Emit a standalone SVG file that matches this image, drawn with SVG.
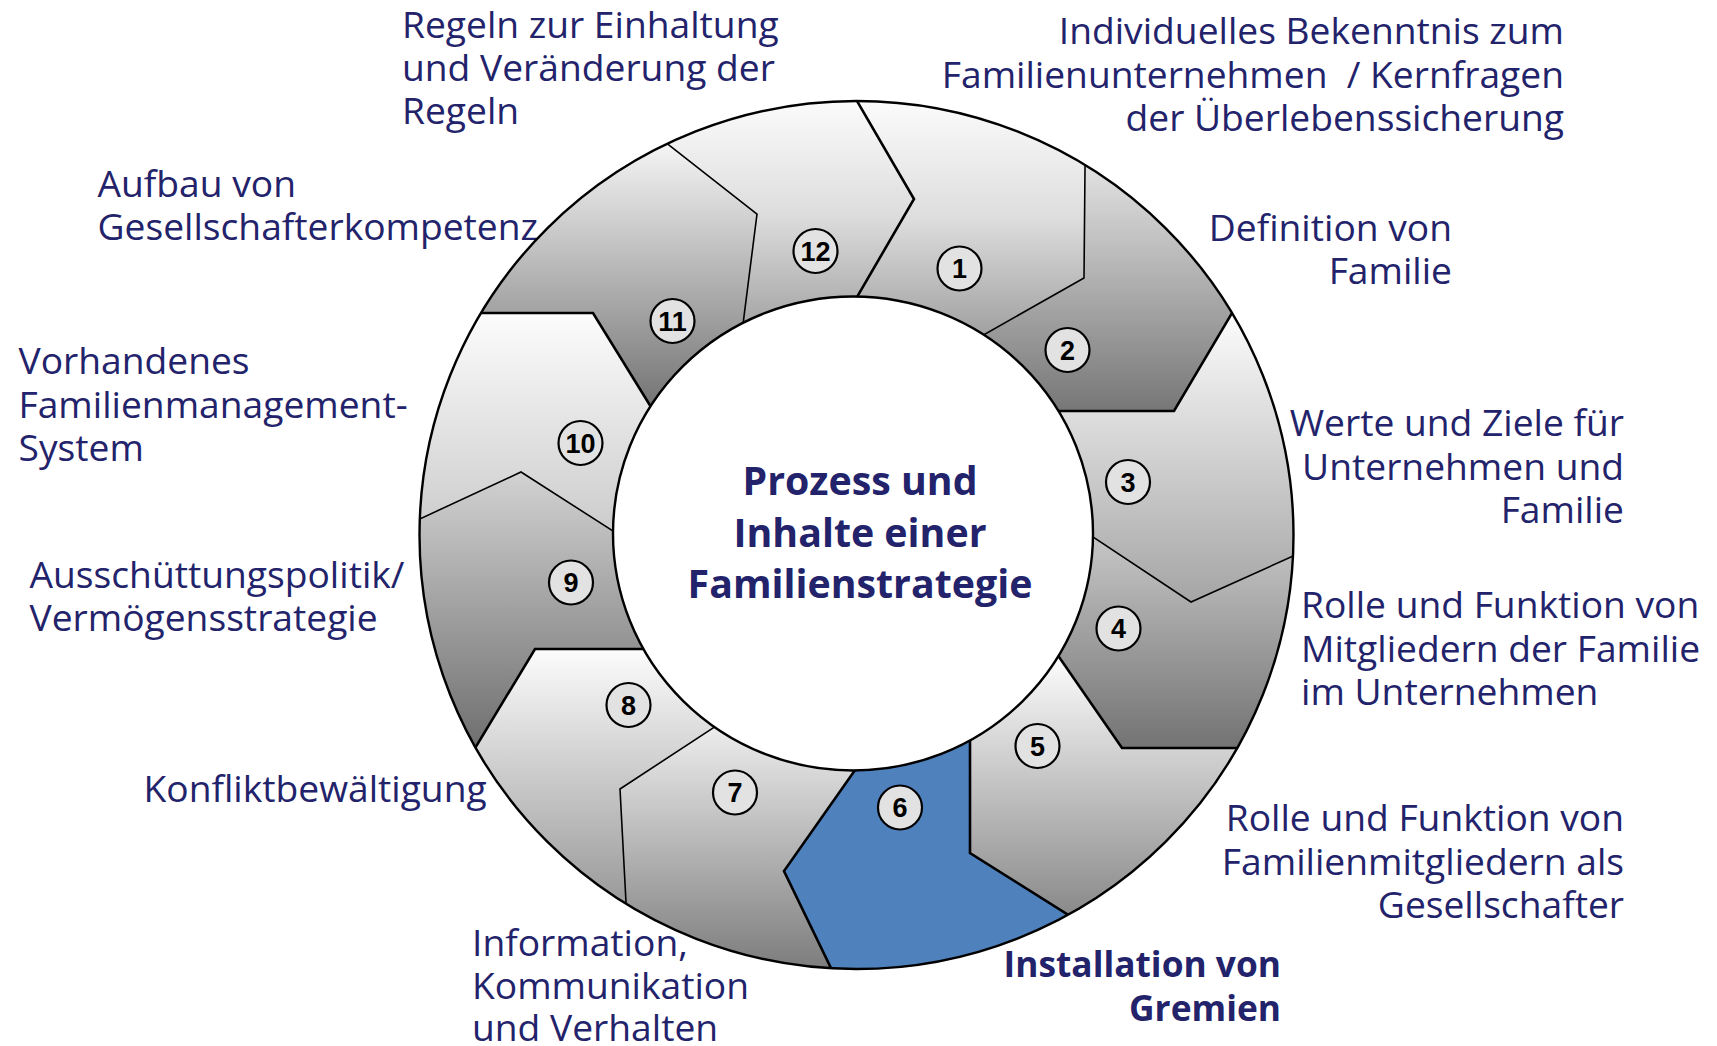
<svg xmlns="http://www.w3.org/2000/svg" width="1717" height="1046" viewBox="0 0 1717 1046">
  <style>
    .lbl { font-family: "Open Sans", "Liberation Sans", sans-serif; font-size: 37.2px; fill: #23236b; }
    .lbl-b { font-family: "Open Sans", "Liberation Sans", sans-serif; font-size: 35.3px; font-weight: bold; fill: #23236b; }
    .title { font-family: "Open Sans", "Liberation Sans", sans-serif; font-size: 39.3px; font-weight: bold; fill: #23236b; text-anchor: middle; }
    .end { text-anchor: end; }
    .seg { stroke: none; }
    .badge { fill: #e2e2e2; stroke: #000; stroke-width: 2.2; }
    .num { font-family: "Liberation Sans", Arial, sans-serif; font-size: 27px; font-weight: bold; fill: #000; text-anchor: middle; }
    .div-thick { fill: none; stroke: #000; stroke-width: 2.6; stroke-linejoin: miter; }
    .div-thin { fill: none; stroke: #000; stroke-width: 1.6; stroke-linejoin: miter; }
    .rim { fill: none; stroke: #000; stroke-width: 2.4; }
  </style>
  <defs>
    <!-- annulus used to trim the segment shapes and divider lines -->
    <clipPath id="band">
      <path clip-rule="evenodd" d="M419.5,535 a437,434 0 1,0 874,0 a437,434 0 1,0 -874,0 Z M613,533.5 a240,237 0 1,0 480,0 a240,237 0 1,0 -480,0 Z"/>
    </clipPath>
    <linearGradient id="g1" gradientUnits="userSpaceOnUse" x1="0" y1="101" x2="0" y2="333"><stop offset="0" stop-color="#fbfbfb"/><stop offset="0.5" stop-color="#dedede"/><stop offset="1" stop-color="#a2a2a2"/></linearGradient>
    <linearGradient id="g2" gradientUnits="userSpaceOnUse" x1="0" y1="165" x2="0" y2="411"><stop offset="0" stop-color="#e2e2e2"/><stop offset="1" stop-color="#777777"/></linearGradient>
    <linearGradient id="g3" gradientUnits="userSpaceOnUse" x1="0" y1="313" x2="0" y2="602"><stop offset="0" stop-color="#fcfcfc"/><stop offset="1" stop-color="#a5a5a5"/></linearGradient>
    <linearGradient id="g4" gradientUnits="userSpaceOnUse" x1="0" y1="537" x2="0" y2="748"><stop offset="0" stop-color="#c6c6c6"/><stop offset="1" stop-color="#737373"/></linearGradient>
    <linearGradient id="g5" gradientUnits="userSpaceOnUse" x1="0" y1="657" x2="0" y2="914"><stop offset="0" stop-color="#fcfcfc"/><stop offset="1" stop-color="#8a8a8a"/></linearGradient>
    <linearGradient id="g7" gradientUnits="userSpaceOnUse" x1="0" y1="727" x2="0" y2="968"><stop offset="0" stop-color="#ededed"/><stop offset="1" stop-color="#7d7d7d"/></linearGradient>
    <linearGradient id="g8" gradientUnits="userSpaceOnUse" x1="0" y1="649" x2="0" y2="902"><stop offset="0" stop-color="#fcfcfc"/><stop offset="1" stop-color="#9a9a9a"/></linearGradient>
    <linearGradient id="g9" gradientUnits="userSpaceOnUse" x1="0" y1="472" x2="0" y2="745"><stop offset="0" stop-color="#d2d2d2"/><stop offset="1" stop-color="#707070"/></linearGradient>
    <linearGradient id="g10" gradientUnits="userSpaceOnUse" x1="0" y1="313" x2="0" y2="531"><stop offset="0" stop-color="#fcfcfc"/><stop offset="1" stop-color="#cccccc"/></linearGradient>
    <linearGradient id="g11" gradientUnits="userSpaceOnUse" x1="0" y1="145" x2="0" y2="407"><stop offset="0" stop-color="#f4f4f4"/><stop offset="1" stop-color="#747474"/></linearGradient>
    <linearGradient id="g12" gradientUnits="userSpaceOnUse" x1="0" y1="101" x2="0" y2="324"><stop offset="0" stop-color="#fbfbfb"/><stop offset="0.5" stop-color="#dedede"/><stop offset="1" stop-color="#a6a6a6"/></linearGradient>
  </defs>

  <rect width="1717" height="1046" fill="#ffffff"/>

  <!-- ring segments, one group per step -->
  <g id="step-1">
    <path class="seg" clip-path="url(#band)" fill="url(#g1)" d="M836.9,66.4 L999,34.8 L1085.4,125 L1084,278 L952.2,352.7 L836.9,331.6 L914,199 Z"/>
    <circle class="badge" cx="959.5" cy="268.5" r="22"/>
    <text class="num" x="959.5" y="278">1</text>
    <text class="lbl end" x="1564" y="44" xml:space="preserve"><tspan x="1564" y="44">Individuelles Bekenntnis zum</tspan><tspan x="1564" y="87.5">Familienunternehmen  / Kernfragen</tspan><tspan x="1564" y="130.5">der Überlebenssicherung</tspan></text>
  </g>
  <g id="step-2">
    <path class="seg" clip-path="url(#band)" fill="url(#g2)" d="M1085.4,125 L1227.8,171 L1252.4,278.6 L1174,411 L1018,411 L952.2,352.7 L1084,278 Z"/>
    <circle class="badge" cx="1067.5" cy="350" r="22"/>
    <text class="num" x="1067.5" y="359.5">2</text>
    <text class="lbl end"><tspan x="1452" y="240.5">Definition von</tspan><tspan x="1452" y="283.5">Familie</tspan></text>
  </g>
  <g id="step-3">
    <path class="seg" clip-path="url(#band)" fill="url(#g3)" d="M1252.4,278.6 L1361.4,410.2 L1329.5,539.6 L1191,602 L1059.7,514.9 L1018,411 L1174,411 Z"/>
    <circle class="badge" cx="1128" cy="482" r="22"/>
    <text class="num" x="1128" y="491.5">3</text>
    <text class="lbl end"><tspan x="1624" y="436">Werte und Ziele für</tspan><tspan x="1624" y="480">Unternehmen und</tspan><tspan x="1624" y="523">Familie</tspan></text>
  </g>
  <g id="step-4">
    <path class="seg" clip-path="url(#band)" fill="url(#g4)" d="M1329.5,539.6 L1356.4,678.2 L1277,748 L1122,748 L1036.2,624.1 L1059.7,514.9 L1191,602 Z"/>
    <circle class="badge" cx="1118.5" cy="628.5" r="22"/>
    <text class="num" x="1118.5" y="638">4</text>
    <text class="lbl"><tspan x="1301" y="618">Rolle und Funktion von</tspan><tspan x="1301" y="662">Mitgliedern der Familie</tspan><tspan x="1301" y="705">im Unternehmen</tspan></text>
  </g>
  <g id="step-5">
    <path class="seg" clip-path="url(#band)" fill="url(#g5)" d="M1277,748 L1223.8,903 L1100.8,935.3 L970,853 L970,702 L1036.2,624.1 L1122,748 Z"/>
    <circle class="badge" cx="1037.5" cy="746" r="22"/>
    <text class="num" x="1037.5" y="755.5">5</text>
    <text class="lbl end"><tspan x="1624" y="831">Rolle und Funktion von</tspan><tspan x="1624" y="875">Familienmitgliedern als</tspan><tspan x="1624" y="918">Gesellschafter</tspan></text>
  </g>
  <g id="step-6">
    <path class="seg" clip-path="url(#band)" fill="#4f81bd" d="M1100.8,935.3 L972,1042 L848.4,1004 L784,871 L876,740.3 L970,702 L970,853 Z"/>
    <circle class="badge" cx="900" cy="807.5" r="22"/>
    <text class="num" x="900" y="817">6</text>
    <text class="lbl-b end"><tspan x="1281" y="977">Installation von</tspan><tspan x="1281" y="1020.5">Gremien</tspan></text>
  </g>
  <g id="step-7">
    <path class="seg" clip-path="url(#band)" fill="url(#g7)" d="M848.4,1004 L698,1030 L628.1,941.9 L620,789 L746.4,706.1 L876,740.3 L784,871 Z"/>
    <circle class="badge" cx="735" cy="792.5" r="22"/>
    <text class="num" x="735" y="802">7</text>
    <text class="lbl"><tspan x="472" y="956">Information,</tspan><tspan x="472" y="999">Kommunikation</tspan><tspan x="472" y="1041">und Verhalten</tspan></text>
  </g>
  <g id="step-8">
    <path class="seg" clip-path="url(#band)" fill="url(#g8)" d="M628.1,941.9 L478.6,892.4 L456.3,779.2 L535,649 L686,649 L746.4,706.1 L620,789 Z"/>
    <circle class="badge" cx="628.5" cy="705" r="22"/>
    <text class="num" x="628.5" y="714.5">8</text>
    <text class="lbl" x="143.5" y="802">Konfliktbewältigung</text>
  </g>
  <g id="step-9">
    <path class="seg" clip-path="url(#band)" fill="url(#g9)" d="M456.3,779.2 L350.5,655 L385.7,534.8 L521,472 L646.7,552.6 L686,649 L535,649 Z"/>
    <circle class="badge" cx="571" cy="582.5" r="22"/>
    <text class="num" x="571" y="592">9</text>
    <text class="lbl"><tspan x="29.5" y="588">Ausschüttungspolitik/</tspan><tspan x="29.5" y="631">Vermögensstrategie</tspan></text>
  </g>
  <g id="step-10">
    <path class="seg" clip-path="url(#band)" fill="url(#g10)" d="M385.7,534.8 L357.9,387.4 L443,313 L593,313 L672,441 L646.7,552.6 L521,472 Z"/>
    <circle class="badge" cx="580.5" cy="443" r="22"/>
    <text class="num" x="580.5" y="452.5">10</text>
    <text class="lbl"><tspan x="18.5" y="374">Vorhandenes</tspan><tspan x="18.5" y="418">Familienmanagement-</tspan><tspan x="18.5" y="461">System</tspan></text>
  </g>
  <g id="step-11">
    <path class="seg" clip-path="url(#band)" fill="url(#g11)" d="M443,313 L505.1,151.8 L637.5,120.3 L757,214 L738,363.7 L672,441 L593,313 Z"/>
    <circle class="badge" cx="672.5" cy="321" r="22"/>
    <text class="num" x="672.5" y="330.5">11</text>
    <text class="lbl"><tspan x="97.5" y="197">Aufbau von</tspan><tspan x="97.5" y="240">Gesellschafterkompetenz</tspan></text>
  </g>
  <g id="step-12">
    <path class="seg" clip-path="url(#band)" fill="url(#g12)" d="M637.5,120.3 L741.5,28 L836.9,66.4 L914,199 L836.9,331.6 L738,363.7 L757,214 Z"/>
    <circle class="badge" cx="815.5" cy="251" r="22"/>
    <text class="num" x="815.5" y="260.5">12</text>
    <text class="lbl"><tspan x="402" y="37.5">Regeln zur Einhaltung</tspan><tspan x="402" y="80.5">und Veränderung der</tspan><tspan x="402" y="123.5">Regeln</tspan></text>
  </g>

  <!-- divider lines between neighbouring steps -->
  <g id="dividers" clip-path="url(#band)">
    <polyline class="div-thick" points="836.9,66.4 914,199 836.9,331.6"/>
    <polyline class="div-thin" points="1085.4,125 1084,278 952.2,352.7"/>
    <polyline class="div-thick" points="1252.4,278.6 1174,411 1018,411"/>
    <polyline class="div-thin" points="1329.5,539.6 1191,602 1059.7,514.9"/>
    <polyline class="div-thick" points="1277,748 1122,748 1036.2,624.1"/>
    <polyline class="div-thick" points="1100.8,935.3 970,853 970,702"/>
    <polyline class="div-thick" points="848.4,1004 784,871 876,740.3"/>
    <polyline class="div-thin" points="628.1,941.9 620,789 746.4,706.1"/>
    <polyline class="div-thick" points="456.3,779.2 535,649 686,649"/>
    <polyline class="div-thin" points="385.7,534.8 521,472 646.7,552.6"/>
    <polyline class="div-thick" points="443,313 593,313 672,441"/>
    <polyline class="div-thin" points="637.5,120.3 757,214 738,363.7"/>
  </g>

  <!-- outer and inner rim of the ring -->
  <g id="rim">
    <ellipse class="rim" cx="856.5" cy="535" rx="437" ry="434"/>
    <ellipse class="rim" cx="853" cy="533.5" rx="240" ry="237"/>
  </g>

  <g id="centre">
    <text class="title"><tspan x="860" y="495">Prozess und</tspan><tspan x="860" y="547">Inhalte einer</tspan><tspan x="860" y="598">Familienstrategie</tspan></text>
  </g>
</svg>
